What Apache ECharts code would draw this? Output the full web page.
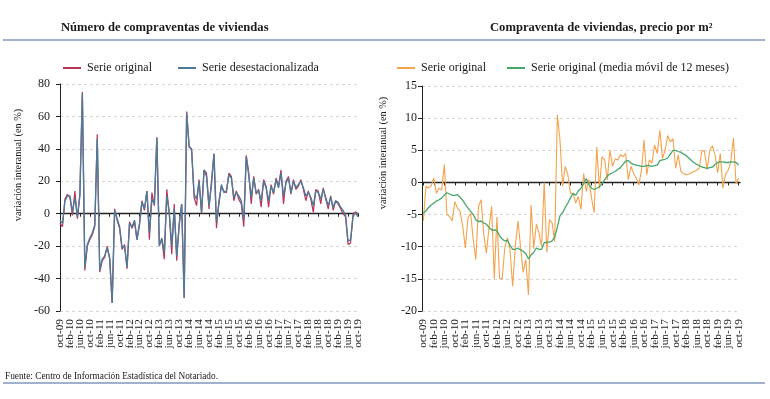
<!DOCTYPE html>
<html lang="es">
<head>
<meta charset="UTF-8">
<title>Compraventa de viviendas</title>
<script src="https://cdn.jsdelivr.net/npm/echarts@6/dist/echarts.min.js"></script>
<style>
  html, body { margin: 0; padding: 0; background: #fff; }
  #main { width: 770px; height: 399px; }
</style>
</head>
<body>
<div id="main"></div>
<script>
  // meses oct-09 .. oct-19
  var monthNames = ['ene', 'feb', 'mar', 'abr', 'may', 'jun', 'jul', 'ago', 'sep', 'oct', 'nov', 'dic'];
  var months = [];
  for (var k = 0; k < 121; k++) {
    var yy = 9 + Math.floor((9 + k) / 12);
    months.push(monthNames[(9 + k) % 12] + '-' + (yy < 10 ? '0' + yy : yy));
  }

  // Número de compraventas (variación interanual, %)
  var ventasOriginal = [
    -6, -8, 9, 12, 10, -1, 14, -3, 12, 75,
    -35, -20, -16, -13, -8, 49, -36, -29, -27, -20,
    -28, -55, 3, -4, -9, -22, -19, -34, -5, -9,
    -5, -16, -6, 8, 2, 14, -16, 13, 5, 47,
    -19, -16, -28, 15, 0, -25, 6, -29, -6, 6,
    -52, 63, 41, 40, 10, 5, 21, 0, 27, 25,
    3, 20, 37, -9, 8, 17, 14, 13, 25, 23,
    8, 14, 9, 6, -8, 36, 25, 6, 23, 12,
    15, 4, 21, 17, 4, 18, 12, 22, 17, 27,
    6, 20, 23, 12, 21, 15, 17, 21, 15, 8,
    14, 9, 1, 15, 14, 6, 16, 9, 3, 11,
    2, 8, 6, 3, 0, -2, -19, -18, 0, 1,
    0
  ];
  var ventasDesest = [
    -4, -6, 8, 11, 11, 1, 10, -2, 11, 74,
    -33, -19, -15, -12, -7, 46, -35, -28, -26, -21,
    -27, -55, 2, -3, -8, -21, -20, -33, -6, -8,
    -4, -16, -7, 7, 3, 14, -12, 9, 6, 47,
    -20, -15, -24, 11, 1, -20, 3, -26, -7, 6,
    -52, 62, 42, 39, 12, 9, 20, 1, 27, 23,
    5, 18, 37, -5, 6, 18, 13, 14, 24, 22,
    10, 13, 11, 8, -4, 35, 24, 10, 22, 13,
    14, 8, 20, 16, 8, 17, 13, 21, 16, 25,
    11, 19, 22, 13, 20, 16, 18, 20, 16, 11,
    13, 10, 5, 14, 13, 9, 15, 10, 5, 10,
    4, 8, 7, 4, 2, -1, -17, -16, -2, 1,
    -2
  ];

  // Precio por m2 (variación interanual, %)
  var precioOriginal = [
    -6.0, -0.6, -0.9, -0.5, 0.7, -1.7, -0.9, -1.2, 2.8, -5.0,
    -5.3, -6.0, -3.0, -4.0, -4.5, -6.8, -10.2, -5.5, -4.8, -8.9,
    -12.0, -3.7, -2.7, -8.1, -11.0, -7.1, -3.7, -15.0, -5.4, -14.9,
    -15.0, -10.2, -8.6, -10.5, -16.2, -10.0, -6.0, -10.0, -14.0, -12.0,
    -17.5, -3.5, -10.3, -6.5, -7.8, -10.0, 0.0, -10.9, -5.8, -6.3,
    -9.2, 10.5, 6.6, -0.6, 2.5, 1.2, -1.7, -1.7, -3.2, -2.2,
    -4.2, 1.4, -1.4, 0.4, -2.4, -4.7, 5.5, -0.9, 4.0, 3.5,
    0.4, 5.0, 2.5, 3.7, 3.5, 4.3, 4.0, 4.5, 0.4, 2.5,
    1.4, 0.7, -0.4, 1.9, 6.6, 1.2, 3.5, 3.0, 5.8, 4.5,
    8.1, 3.7, 5.0, 7.3, 6.3, 6.8, 2.2, 4.3, 1.7, 1.4,
    1.2, 1.3, 1.5, 1.7, 1.9, 2.2, 5.0, 4.8, 2.0, 5.0,
    5.7, 4.3, 1.5, 4.5, -0.9, 1.3, 1.9, 3.2, 6.9, -0.2,
    0.7
  ];
  var precioMedia = [
    -4.8, -4.4, -3.9, -3.5, -3.2, -2.9, -2.7, -2.4, -2.0, -1.6,
    -1.8, -2.0, -2.0, -1.9, -2.3, -2.8, -3.4, -4.0, -4.5, -5.0,
    -5.8, -6.1, -6.0, -6.3, -6.5, -7.0, -7.4, -7.4, -7.5, -8.3,
    -8.8, -9.1, -9.0, -9.8, -10.4, -10.4, -10.2, -10.5, -10.7, -11.1,
    -11.9, -11.3, -10.9, -10.2, -10.4, -10.4, -9.4, -9.3, -9.3, -9.1,
    -8.5, -7.0, -5.2, -4.7, -3.9, -3.2, -2.4, -1.7, -2.0, -1.3,
    -0.9, -0.2, 0.6, -0.3, -0.9, -1.1, -0.9, -0.7, -0.2, 0.4,
    1.0, 1.3, 1.5, 1.7, 2.0, 2.3, 2.8, 3.3, 3.4, 3.0,
    2.8, 2.7, 2.6, 2.5, 2.5, 2.6, 2.6, 2.5, 2.6, 2.7,
    3.4, 3.5, 3.6, 3.8, 4.4, 5.0, 5.0, 4.8, 4.7, 4.4,
    4.2, 3.8, 3.4, 3.1, 2.8, 2.6, 2.4, 2.3, 2.2, 2.3,
    2.4, 2.8, 3.1, 3.2, 3.2, 3.1, 3.1, 3.2, 3.2, 3.1,
    2.7
  ];

  var serif = '"Liberation Serif", "Times New Roman", serif';
  var txt = '#1a1a1a';

  var chart = echarts.init(document.getElementById('main'));

  // etiquetas abajo: dos ejes (cada 8 meses, desfasados 4) para que no se oculten
  function labelAxis(grid, gap, phase) {
    return {
      gridIndex: grid, type: 'category', data: months, boundaryGap: gap,
      position: 'bottom',
      axisLine: { show: false, onZero: false },
      axisTick: { show: false },
      axisLabel: {
        interval: function (i) { return i % 8 === phase; },
        rotate: 90, margin: 8, fontSize: 11.3,
        fontFamily: serif, color: txt,
        hideOverlap: false, showMinLabel: true, showMaxLabel: true
      },
      splitLine: { show: false }
    };
  }
  // eje en el cero con las marcas
  function zeroAxis(grid, gap) {
    return {
      gridIndex: grid, type: 'category', data: months, boundaryGap: gap,
      position: 'bottom',
      axisLine: { show: true, onZero: true, lineStyle: { color: '#222', width: 1.3 } },
      axisTick: { show: true, interval: 3, length: 3, alignWithLabel: true, lineStyle: { color: '#222' } },
      axisLabel: { show: false },
      splitLine: { show: false }
    };
  }
  function valueAxis(grid, min, max, step, margin) {
    return {
      gridIndex: grid, type: 'value', min: min, max: max, interval: step,
      axisLine: { show: true, lineStyle: { color: '#222', width: 1 } },
      axisTick: { show: true, length: 4, lineStyle: { color: '#222' } },
      axisLabel: { margin: margin, fontSize: 12, fontFamily: serif, color: txt },
      splitLine: { show: true, lineStyle: { color: '#d4d4d4', type: [3, 3], width: 1 } }
    };
  }

  var option = {
    animation: false,
    backgroundColor: '#fff',
    title: [{
      text: 'Número de compraventas de viviendas',
      left: 61, top: 21, padding: 0,
      textStyle: { fontSize: 12.6, fontWeight: 'bold', fontFamily: serif, color: txt }
    }, {
      text: 'Compraventa de viviendas, precio por m²',
      left: 490, top: 21, padding: 0,
      textStyle: { fontSize: 12.6, fontWeight: 'bold', fontFamily: serif, color: txt }
    }],
    legend: [{
      left: 63, top: 62, padding: 0, itemGap: 26, itemWidth: 18, itemHeight: 2, icon: 'rect',
      data: ['Serie original', 'Serie desestacionalizada'],
      textStyle: { fontSize: 12, fontFamily: serif, color: txt, padding: [0, 0, 0, 1] }
    }, {
      left: 397, top: 62, padding: 0, itemGap: 21, itemWidth: 18, itemHeight: 2, icon: 'rect',
      data: ['Precio: serie original', 'Serie original (media móvil de 12 meses)'],
      formatter: function (name) { return name === 'Precio: serie original' ? 'Serie original' : name; },
      textStyle: { fontSize: 12, fontFamily: serif, color: txt, padding: [0, 0, 0, 1] }
    }],
    grid: [
      { left: 60, top: 84, width: 298, height: 227, outerBoundsMode: 'none' },
      { left: 422, top: 86, width: 318, height: 225, outerBoundsMode: 'none' }
    ],
    xAxis: [
      labelAxis(0, false, 0), labelAxis(0, false, 4), zeroAxis(0, false),
      labelAxis(1, true, 0), labelAxis(1, true, 4), zeroAxis(1, true)
    ],
    yAxis: [valueAxis(0, -60, 80, 20, 10), valueAxis(1, -20, 15, 5, 5)],
    series: [{
      name: 'Serie original', type: 'line', xAxisIndex: 0, yAxisIndex: 0,
      data: ventasOriginal, showSymbol: false, symbol: 'none',
      color: '#b8325a', lineStyle: { width: 1.2 }
    }, {
      name: 'Serie desestacionalizada', type: 'line', xAxisIndex: 0, yAxisIndex: 0,
      data: ventasDesest, showSymbol: false, symbol: 'none',
      color: '#4d7b98', lineStyle: { width: 1.4 }
    }, {
      name: 'Precio: serie original', type: 'line', xAxisIndex: 3, yAxisIndex: 1,
      data: precioOriginal, showSymbol: false, symbol: 'none',
      color: '#f4a24b', lineStyle: { width: 1.1 }
    }, {
      name: 'Serie original (media móvil de 12 meses)', type: 'line', xAxisIndex: 3, yAxisIndex: 1,
      data: precioMedia, showSymbol: false, symbol: 'none',
      color: '#45a86a', lineStyle: { width: 1.3 }
    }],
    graphic: [
      { type: 'line', shape: { x1: 3, y1: 40, x2: 765, y2: 40 }, style: { stroke: '#7f98bd', lineWidth: 1.5 } },
      { type: 'line', shape: { x1: 3, y1: 383, x2: 765, y2: 383 }, style: { stroke: '#7f98bd', lineWidth: 1.5 } },
      {
        type: 'text', x: 5, y: 377,
        style: { text: 'Fuente: Centro de Información Estadística del Notariado.', font: '9.3px ' + serif, fill: txt, textVerticalAlign: 'middle' }
      },
      {
        type: 'text', x: 18, y: 165, rotation: Math.PI / 2,
        style: { text: 'variación interanual (en %)', font: '10.3px ' + serif, fill: txt, textAlign: 'center', textVerticalAlign: 'middle' }
      },
      {
        type: 'text', x: 383, y: 153, rotation: Math.PI / 2,
        style: { text: 'variación interanual (en %)', font: '10.3px ' + serif, fill: txt, textAlign: 'center', textVerticalAlign: 'middle' }
      }
    ]
  };

  chart.setOption(option);
</script>
</body>
</html>
